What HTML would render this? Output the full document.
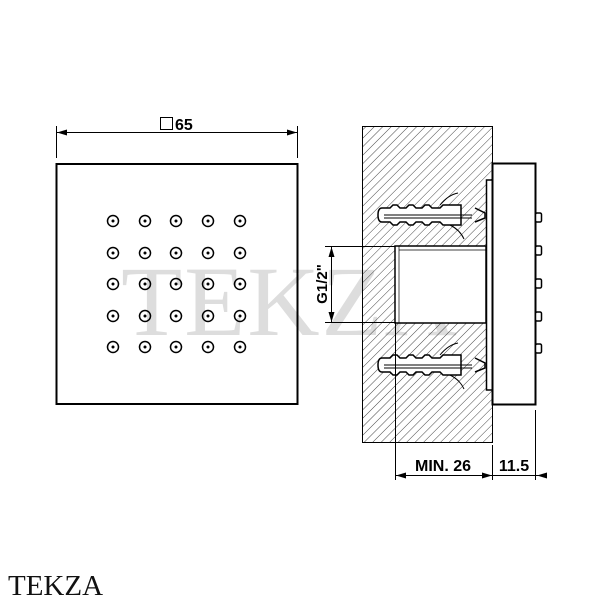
<!DOCTYPE html>
<html><head><style>body{margin:0;background:#fff}svg{display:block}</style></head><body>
<svg width="600" height="600" viewBox="0 0 600 600" xmlns="http://www.w3.org/2000/svg">
<defs>
<pattern id="h" width="6" height="6" patternUnits="userSpaceOnUse" patternTransform="rotate(45)">
<line x1="0" y1="0" x2="0" y2="6" stroke="#333" stroke-width="0.9"/>
</pattern>
<marker id="a" viewBox="0 0 10 6" refX="10" refY="3" markerWidth="10" markerHeight="6" orient="auto-start-reverse" markerUnits="userSpaceOnUse"><path d="M0,0L10,3L0,6z" fill="#000"/></marker>
</defs>
<text x="290" y="335" font-family="Liberation Serif, serif" font-size="100" fill="#ddd" text-anchor="middle" letter-spacing="2">TEKZA</text>
<line x1="56.5" y1="126" x2="56.5" y2="158" stroke="#000"/>
<line x1="297.5" y1="126" x2="297.5" y2="158" stroke="#000"/>
<line x1="57" y1="132.5" x2="297" y2="132.5" stroke="#000" marker-start="url(#a)" marker-end="url(#a)"/>
<rect x="160.5" y="117.5" width="12" height="12" fill="none" stroke="#000"/>
<text x="175" y="130" font-family="Liberation Sans, sans-serif" font-weight="bold" font-size="16">65</text>
<rect x="56.5" y="164" width="241" height="240" fill="none" stroke="#000" stroke-width="2"/>
<g fill="none" stroke="#000" stroke-width="1.5">
<g id="r">
<circle cx="113" cy="221" r="5.5"/><circle cx="145" cy="221" r="5.5"/><circle cx="176" cy="221" r="5.5"/><circle cx="208" cy="221" r="5.5"/><circle cx="240" cy="221" r="5.5"/>
</g>
<use href="#r" y="32"/><use href="#r" y="63"/><use href="#r" y="95"/><use href="#r" y="126"/>
</g>
<g fill="#000">
<g id="d">
<circle cx="113" cy="221" r="1.5"/><circle cx="145" cy="221" r="1.5"/><circle cx="176" cy="221" r="1.5"/><circle cx="208" cy="221" r="1.5"/><circle cx="240" cy="221" r="1.5"/>
</g>
<use href="#d" y="32"/><use href="#d" y="63"/><use href="#d" y="95"/><use href="#d" y="126"/>
</g>
<rect x="362.5" y="126.5" width="130" height="316" fill="url(#h)" stroke="#000"/>
<rect x="395" y="246" width="91" height="77" fill="#fff" stroke="#000" stroke-width="1.5"/>
<line x1="399" y1="250" x2="486" y2="250" stroke="#000" stroke-width="0.7"/>
<line x1="399" y1="246" x2="399" y2="323" stroke="#000" stroke-width="0.7"/>
<rect x="486.5" y="180" width="6" height="210" fill="#fff" stroke="#000" stroke-width="1.5"/>
<rect x="492.5" y="163.5" width="43" height="241" fill="#fff" stroke="#000" stroke-width="2"/>
<g fill="#fff" stroke="#000" stroke-width="1.5">
<rect x="535.5" y="213" width="6" height="9" rx="1.5"/>
<rect x="535.5" y="246" width="6" height="9" rx="1.5"/>
<rect x="535.5" y="279" width="6" height="9" rx="1.5"/>
<rect x="535.5" y="312" width="6" height="9" rx="1.5"/>
<rect x="535.5" y="344" width="6" height="9" rx="1.5"/>
</g>
<g id="an" fill="#fff" stroke="#000" stroke-width="1.5">
<path d="M382,208 h8 l3,-3 h4 l3,3 h6 l3,-3 h4 l3,3 h6 l3,-3 h4 l3,3 h8 l3,-3 h18 v20 h-18 l-3,-3 h-8 l-3,3 h-4 l-3,-3 h-6 l-3,3 h-4 l-3,-3 h-6 l-3,3 h-4 l-3,-3 h-8 q-4,0 -4,-7 q0,-7 4,-7z"/>
<line x1="384" y1="215" x2="472" y2="215" stroke-width="1"/>
<line x1="384" y1="218" x2="472" y2="218" stroke-width="1"/>
<path d="M475,208 l10,5 v5 l-10,4" fill="none"/>
<path d="M440,205 q8,-10 18,-12 M450,225 q10,5 14,14" fill="none" stroke-width="1"/>
</g>
<use href="#an" y="150"/>
<line x1="325" y1="246.5" x2="395" y2="246.5" stroke="#000"/>
<line x1="325" y1="322.5" x2="395" y2="322.5" stroke="#000"/>
<line x1="331.5" y1="247" x2="331.5" y2="322" stroke="#000" marker-start="url(#a)" marker-end="url(#a)"/>
<text transform="translate(327,284) rotate(-90)" font-family="Liberation Sans, sans-serif" font-weight="bold" font-size="15" text-anchor="middle">G1/2"</text>
<line x1="395.5" y1="322" x2="395.5" y2="480" stroke="#000"/>
<line x1="492.5" y1="445" x2="492.5" y2="480" stroke="#000"/>
<line x1="535.5" y1="410" x2="535.5" y2="480" stroke="#000"/>
<line x1="396" y1="475.5" x2="492" y2="475.5" stroke="#000" marker-start="url(#a)" marker-end="url(#a)"/>
<line x1="492" y1="475.5" x2="547" y2="475.5" stroke="#000"/>
<path d="M547,472.5 L537,475.5 L547,478.5z" fill="#000"/>
<text x="443" y="471" font-family="Liberation Sans, sans-serif" font-weight="bold" font-size="16" text-anchor="middle">MIN. 26</text>
<text x="514" y="471" font-family="Liberation Sans, sans-serif" font-weight="bold" font-size="16" text-anchor="middle">11.5</text>
<text x="8" y="595" font-family="Liberation Serif, serif" font-size="29" fill="#111">TEKZA</text>
</svg>
</body></html>
